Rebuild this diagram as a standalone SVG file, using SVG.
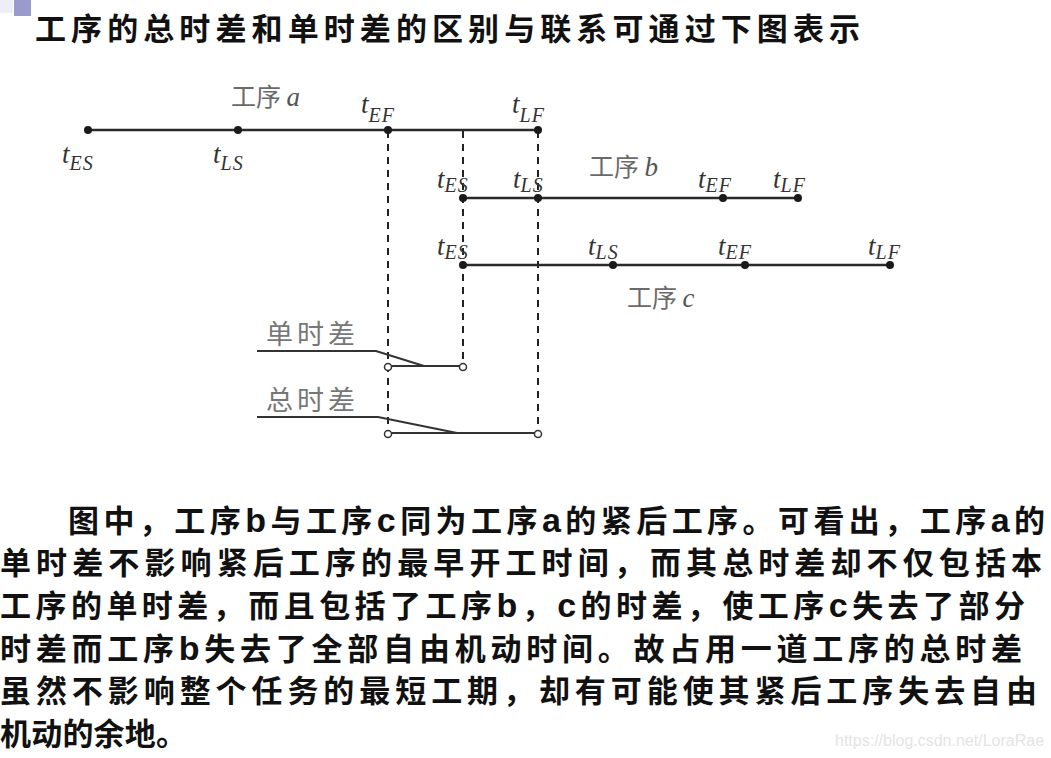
<svg xmlns="http://www.w3.org/2000/svg" width="1051" height="758" viewBox="0 0 1051 758">
<style>
.cjk{font-family:"Noto Sans CJK SC","Noto Sans CJK JP",sans-serif;font-weight:bold;fill:#111}
.lat{font-family:"Liberation Sans",Arial,sans-serif;font-weight:bold;font-size:34px}
.lbl{font-family:"Noto Sans CJK SC",sans-serif;font-size:25px;fill:#6a6a6a}
.ital{font-family:"Liberation Serif",serif;font-style:italic;fill:#555;font-size:27px}
.tm{font-family:"Liberation Serif",serif;font-style:italic;fill:#333;font-size:27px}
.sub{font-size:20px;letter-spacing:1px}
.ln{stroke:#2a2a2a;stroke-width:2.5;fill:none}
.dash{stroke:#222;stroke-width:2;stroke-dasharray:7 6;fill:none}
.dot{fill:#1a1a1a}
.oc{fill:#fff;stroke:#333;stroke-width:1.5}
.thin{stroke:#333;stroke-width:2;fill:none}
.glbl{font-family:"Noto Sans CJK SC",sans-serif;font-size:27px;fill:#777;letter-spacing:4px}
</style>
<rect width="1051" height="758" fill="#fff"/>
<rect x="0" y="0" width="13" height="13" fill="#eeeef6"/>
<rect x="14" y="0" width="17" height="16" fill="#9a9acc"/>
<g id="title">
<text class="cjk" x="35" y="40" font-size="31" textLength="825" lengthAdjust="spacing">工序的总时差和单时差的区别与联系可通过下图表示</text>
</g>
<g id="guides">
<line class="dash" x1="388" y1="131" x2="388" y2="437"/>
<line class="dash" x1="463" y1="131" x2="463" y2="368"/>
<line class="dash" x1="538" y1="131" x2="538" y2="437"/>
</g>
<g id="activity-a">
<line class="ln" x1="88" y1="130" x2="538" y2="130"/>
<circle class="dot" cx="88" cy="130" r="4"/>
<circle class="dot" cx="238" cy="130" r="4"/>
<circle class="dot" cx="388" cy="130" r="4"/>
<circle class="dot" cx="538" cy="130" r="4"/>
<text class="lbl" x="231" y="106">工序 <tspan class="ital">a</tspan></text>
<text class="tm" x="62" y="163">t<tspan class="sub" dy="7">ES</tspan></text>
<text class="tm" x="213" y="163">t<tspan class="sub" dy="7">LS</tspan></text>
<text class="tm" x="361" y="113">t<tspan class="sub" dy="9">EF</tspan></text>
<text class="tm" x="512" y="113">t<tspan class="sub" dy="9">LF</tspan></text>
</g>
<g id="activity-b">
<line class="ln" x1="463" y1="198" x2="798" y2="198"/>
<circle class="dot" cx="463" cy="198" r="4"/>
<circle class="dot" cx="538" cy="198" r="4"/>
<circle class="dot" cx="723" cy="198" r="4"/>
<circle class="dot" cx="798" cy="198" r="4"/>
<text class="lbl" x="589" y="176">工序 <tspan class="ital">b</tspan></text>
<text class="tm" x="437" y="188">t<tspan class="sub" dy="4">ES</tspan></text>
<text class="tm" x="513" y="188">t<tspan class="sub" dy="4">LS</tspan></text>
<text class="tm" x="698" y="188">t<tspan class="sub" dy="4">EF</tspan></text>
<text class="tm" x="773" y="188">t<tspan class="sub" dy="4">LF</tspan></text>
</g>
<g id="activity-c">
<line class="ln" x1="463" y1="265" x2="890" y2="265"/>
<circle class="dot" cx="463" cy="265" r="4"/>
<circle class="dot" cx="613" cy="265" r="4"/>
<circle class="dot" cx="745" cy="265" r="4"/>
<circle class="dot" cx="890" cy="265" r="4"/>
<text class="lbl" x="627" y="307">工序 <tspan class="ital">c</tspan></text>
<text class="tm" x="437" y="255">t<tspan class="sub" dy="4">ES</tspan></text>
<text class="tm" x="588" y="255">t<tspan class="sub" dy="4">LS</tspan></text>
<text class="tm" x="718" y="255">t<tspan class="sub" dy="4">EF</tspan></text>
<text class="tm" x="868" y="255">t<tspan class="sub" dy="4">LF</tspan></text>
</g>
<g id="free-float">
<text class="glbl" x="266" y="344">单时差</text>
<polyline class="thin" points="257,351 376,351 424,366"/>
<line class="thin" x1="388" y1="366" x2="463" y2="366"/>
<circle class="oc" cx="388" cy="367" r="3.5"/>
<circle class="oc" cx="463" cy="367" r="3.5"/>
</g>
<g id="total-float">
<text class="glbl" x="266" y="410">总时差</text>
<polyline class="thin" points="257,417 378,417 457,433"/>
<line class="thin" x1="388" y1="433" x2="538" y2="433"/>
<circle class="oc" cx="388" cy="434" r="3.5"/>
<circle class="oc" cx="538" cy="434" r="3.5"/>
</g>
<g id="body" class="cjk" font-size="31">
<text x="68" y="532" textLength="977" lengthAdjust="spacing">图中，工序<tspan class="lat">b</tspan>与工序<tspan class="lat">c</tspan>同为工序<tspan class="lat">a</tspan>的紧后工序。可看出，工序<tspan class="lat">a</tspan>的</text>
<text x="0" y="574" textLength="1042" lengthAdjust="spacing">单时差不影响紧后工序的最早开工时间，而其总时差却不仅包括本</text>
<text x="0" y="617" textLength="1025" lengthAdjust="spacing">工序的单时差，而且包括了工序<tspan class="lat">b</tspan>，<tspan class="lat">c</tspan>的时差，使工序<tspan class="lat">c</tspan>失去了部分</text>
<text x="0" y="660" textLength="1022" lengthAdjust="spacing">时差而工序<tspan class="lat">b</tspan>失去了全部自由机动时间。故占用一道工序的总时差</text>
<text x="0" y="702" textLength="1037" lengthAdjust="spacing">虽然不影响整个任务的最短工期，却有可能使其紧后工序失去自由</text>
<text x="0" y="745" textLength="187" lengthAdjust="spacing">机动的余地。</text>
</g>
<text x="835" y="746" font-family="Liberation Sans,Arial,sans-serif" font-size="16" fill="#e4e4e4">https://blog.csdn.net/LoraRae</text>
</svg>
